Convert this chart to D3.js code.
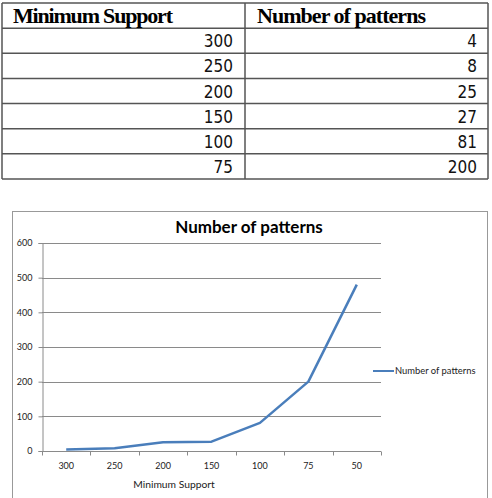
<!DOCTYPE html>
<html>
<head>
<meta charset="utf-8">
<script src="https://cdn.jsdelivr.net/npm/d3@7"></script>
<style>
  body { margin: 0; background: #fff; }
  svg { display: block; }
</style>
</head>
<body>
<div id="chart"></div>
<script>
// table rows and chart data
var tableHeaders = ["Minimum Support", "Number of patterns"];
var tableSupport = [300, 250, 200, 150, 100, 75];
var tablePatterns = [4, 8, 25, 27, 81, 200];

var supportLabels = ["300", "250", "200", "150", "100", "75", "50"];
var patternCounts = [4, 8, 25, 27, 81, 200, 480];
var yTicks = [0, 100, 200, 300, 400, 500, 600];
var seriesName = "Number of patterns";
var chartTitle = "Number of patterns";
var xTitle = "Minimum Support";

var width = 492, height = 498;

var svg = d3.select("#chart").append("svg")
    .attr("width", width)
    .attr("height", height);

/*
 *  Table
 */
var tbl = svg.append("g").attr("class", "table");
var colEdges = [2, 245, 488];

// rows: header + data rows
var rowScale = d3.scaleBand()
    .domain(d3.range(tableSupport.length + 1))
    .range([3, 179]);

tbl.selectAll("line.row")
    .data(d3.range(tableSupport.length + 2))
    .enter().append("line")
    .attr("x1", colEdges[0])
    .attr("x2", colEdges[2])
    .attr("y1", function(d) { return d <= tableSupport.length ? rowScale(d) : rowScale(d - 1) + rowScale.bandwidth(); })
    .attr("y2", function(d) { return d <= tableSupport.length ? rowScale(d) : rowScale(d - 1) + rowScale.bandwidth(); })
    .attr("stroke", "#555")
    .attr("stroke-width", 1.5);

tbl.selectAll("line.col")
    .data(colEdges)
    .enter().append("line")
    .attr("x1", function(d) { return d; })
    .attr("x2", function(d) { return d; })
    .attr("y1", 3)
    .attr("y2", 179)
    .attr("stroke", "#555")
    .attr("stroke-width", 1.5);

// header text (squeezed bold serif)
var headerWidths = [160, 169];
tbl.selectAll("text.head")
    .data(tableHeaders)
    .enter().append("text")
    .attr("x", function(d, i) { return colEdges[i] + (i == 0 ? 11 : 12); })
    .attr("y", rowScale(0) + 20)
    .attr("textLength", function(d, i) { return headerWidths[i]; })
    .attr("lengthAdjust", "spacing")
    .style("font-family", "'Liberation Serif', 'DejaVu Serif', serif")
    .style("font-weight", "bold")
    .style("font-size", "22px")
    .attr("fill", "#000")
    .text(function(d) { return d; });

var cellFont = "'DejaVu Sans Condensed', 'DejaVu Sans', sans-serif";
tbl.selectAll("text.sup")
    .data(tableSupport)
    .enter().append("text")
    .attr("x", 233)
    .attr("y", function(d, i) { return rowScale(i + 1) + rowScale.bandwidth() - 6; })
    .attr("text-anchor", "end")
    .style("font-family", cellFont)
    .style("font-stretch", "condensed")
    .style("font-size", "17px")
    .attr("fill", "#111")
    .text(function(d) { return d; });

tbl.selectAll("text.pat")
    .data(tablePatterns)
    .enter().append("text")
    .attr("x", 477)
    .attr("y", function(d, i) { return rowScale(i + 1) + rowScale.bandwidth() - 6; })
    .attr("text-anchor", "end")
    .style("font-family", cellFont)
    .style("font-stretch", "condensed")
    .style("font-size", "17px")
    .attr("fill", "#111")
    .text(function(d) { return d; });

/*
 *  Line chart
 */
var font = "Lato, 'Open Sans', sans-serif";
var chart = svg.append("g").attr("class", "line-chart");

// chart border (bottom runs off the picture)
chart.append("rect")
    .attr("x", 12.5)
    .attr("y", 211.5)
    .attr("width", 475)
    .attr("height", 300)
    .attr("fill", "none")
    .attr("stroke", "#999");

var x = d3.scaleBand()
    .domain(supportLabels)
    .range([42, 381])
    .padding(0);

var y = d3.scaleLinear()
    .domain([0, 600])
    .range([451, 243]);

// gridlines
chart.selectAll("line.grid")
    .data(yTicks.slice(1))
    .enter().append("line")
    .attr("x1", 42)
    .attr("x2", 381)
    .attr("y1", function(d) { return Math.round(y(d)) + 0.5; })
    .attr("y2", function(d) { return Math.round(y(d)) + 0.5; })
    .attr("stroke", "#8a8a8a");

// y axis
var yAxis = chart.append("g")
    .attr("transform", "translate(42.5,0)")
    .call(d3.axisLeft(y).tickValues(yTicks).tickSize(4).tickPadding(6));
yAxis.select(".domain").attr("stroke", "#8a8a8a");
yAxis.selectAll(".tick line").attr("stroke", "#8a8a8a");
yAxis.selectAll(".tick text")
    .style("font-family", font)
    .style("font-size", "9px")
    .attr("fill", "#222");

// x axis (ticks on category boundaries)
var xAxis = chart.append("g")
    .attr("transform", "translate(0,451.5)");
xAxis.append("line")
    .attr("x1", 42)
    .attr("x2", 381)
    .attr("stroke", "#8a8a8a");
xAxis.selectAll("line.tick")
    .data(supportLabels.concat(["end"]))
    .enter().append("line")
    .attr("x1", function(d, i) { return Math.round(i < supportLabels.length ? x(d) : x.range()[1]) + 0.5; })
    .attr("x2", function(d, i) { return Math.round(i < supportLabels.length ? x(d) : x.range()[1]) + 0.5; })
    .attr("y1", 0)
    .attr("y2", 4)
    .attr("stroke", "#8a8a8a");
xAxis.selectAll("text")
    .data(supportLabels)
    .enter().append("text")
    .attr("x", function(d) { return x(d) + x.bandwidth() / 2; })
    .attr("y", 17)
    .attr("text-anchor", "middle")
    .style("font-family", font)
    .style("font-size", "9px")
    .attr("fill", "#222")
    .text(function(d) { return d; });

// series line
var line = d3.line()
    .x(function(d, i) { return x(supportLabels[i]) + x.bandwidth() / 2; })
    .y(function(d) { return y(d); });

chart.append("path")
    .datum(patternCounts)
    .attr("d", line)
    .attr("fill", "none")
    .attr("stroke", "#4a7ebb")
    .attr("stroke-width", 2.5)
    .attr("stroke-linejoin", "round");

// titles
chart.append("text")
    .attr("x", 249)
    .attr("y", 233)
    .attr("text-anchor", "middle")
    .style("font-family", font)
    .style("font-weight", "bold")
    .style("font-size", "17px")
    .attr("fill", "#000")
    .text(chartTitle);

chart.append("text")
    .attr("x", 174)
    .attr("y", 488)
    .attr("text-anchor", "middle")
    .style("font-family", font)
    .style("font-size", "10.3px")
    .attr("fill", "#222")
    .text(xTitle);

// legend
var legend = chart.append("g").attr("class", "legend");
legend.append("line")
    .attr("x1", 373)
    .attr("x2", 394)
    .attr("y1", 371)
    .attr("y2", 371)
    .attr("stroke", "#4a7ebb")
    .attr("stroke-width", 2);
legend.append("text")
    .attr("x", 395)
    .attr("y", 374)
    .style("font-family", font)
    .style("font-size", "9.4px")
    .attr("fill", "#222")
    .text(seriesName);
</script>
</body>
</html>
